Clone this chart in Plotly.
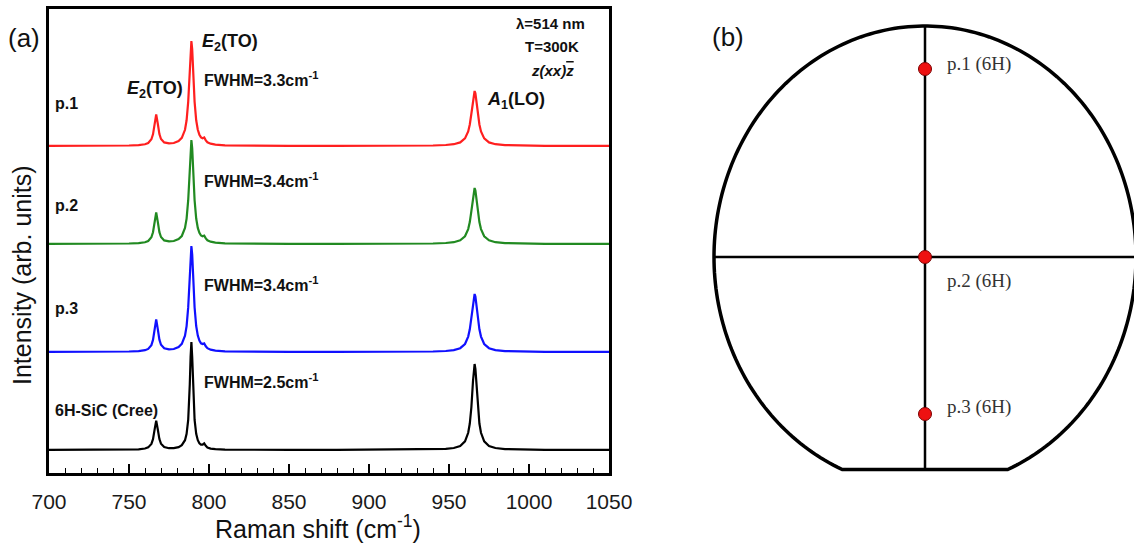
import numpy as np
import plotly.graph_objects as go

W, H = 1134, 547

# ---------------- data: Raman spectra (panel a) ----------------
raman_shift = [700, 720, 740, 750, 756, 760, 762, 764, 765, 766, 767, 768, 769, 770, 772,
               775, 778, 781, 783, 785, 786, 787, 787.5, 788, 788.5, 789, 789.5, 790, 790.5,
               791, 792, 793, 794, 795, 796, 797, 798, 799, 801, 804, 810, 820, 850, 880,
               910, 930, 940, 948, 953, 957, 960, 962, 963, 964, 965, 965.5, 966, 966.5,
               967, 968, 969, 970, 972, 975, 979, 985, 995, 1010, 1030, 1050]

p1_intensity = [0.1, 0.1, 0.3, 0.5, 0.9, 1.7, 3.0, 6.7, 11.7, 22.1, 31.6, 22.2, 11.9, 7.0, 3.6,
                2.6, 3.0, 4.9, 8.1, 16.2, 25.7, 44.2, 59, 78, 96.6, 105, 96.6, 78, 59,
                44.1, 25.7, 16.2, 11.3, 8.6, 7.8, 8.5, 5.6, 3.7, 2.3, 1.4, 0.7, 0.4, 0.2, 0.2,
                0.2, 0.3, 0.5, 1.0, 1.8, 3.6, 7.6, 14.6, 21.5, 32.5, 46.8, 52.7, 55, 52.7,
                46.8, 32.5, 21.5, 14.6, 7.6, 3.6, 1.8, 0.9, 0.4, 0.2, 0.1, 0.1]

p2_intensity = [0.1, 0.1, 0.3, 0.5, 0.9, 1.7, 3.0, 6.7, 11.7, 22.0, 31.5, 22.1, 11.8, 7.0, 3.6,
                2.6, 3.0, 4.9, 8.0, 16.0, 25.4, 43.8, 58.5, 77.3, 95.7, 104, 95.7, 77.3, 58.5,
                43.7, 25.5, 16.1, 11.2, 8.5, 7.7, 8.4, 5.6, 3.7, 2.3, 1.4, 0.7, 0.4, 0.2, 0.2,
                0.2, 0.3, 0.5, 1.0, 1.8, 3.7, 7.7, 14.9, 21.9, 33.1, 47.6, 53.6, 56, 53.6,
                47.6, 33.1, 21.9, 14.9, 7.7, 3.7, 1.8, 0.9, 0.4, 0.2, 0.1, 0.1]

p3_intensity = [0.1, 0.1, 0.3, 0.5, 0.9, 1.8, 3.1, 6.9, 12.1, 22.8, 32.6, 22.9, 12.3, 7.2, 3.7,
                2.6, 3.0, 5.0, 8.2, 16.4, 25.9, 44.6, 59.6, 78.8, 97.5, 106, 97.5, 78.8, 59.6,
                44.5, 26.0, 16.4, 11.4, 8.7, 7.9, 8.6, 5.7, 3.8, 2.3, 1.4, 0.7, 0.4, 0.2, 0.2,
                0.2, 0.3, 0.5, 1.0, 1.9, 3.8, 8.0, 15.4, 22.7, 34.3, 49.4, 55.6, 58, 55.6,
                49.4, 34.3, 22.7, 15.4, 8.0, 3.8, 1.9, 0.9, 0.4, 0.2, 0.1, 0.1]

cree_intensity = [0.1, 0.1, 0.2, 0.3, 0.7, 1.5, 2.6, 6.1, 10.8, 20.4, 29.4, 20.5, 10.9, 6.3, 3.0,
                  1.8, 1.9, 2.9, 4.8, 9.8, 16.2, 30, 44, 66, 93, 108, 93, 66, 44,
                  30, 16.2, 9.8, 6.8, 5.3, 5.3, 6.6, 4.1, 2.5, 1.4, 0.8, 0.4, 0.2, 0.1, 0.1,
                  0.2, 0.3, 0.5, 1.05, 2.0, 4.0, 8.6, 17.2, 26.5, 43, 69, 81, 86, 81,
                  69, 43, 26.5, 17.2, 8.6, 4.0, 2.0, 0.95, 0.4, 0.2, 0.1, 0.1]

series_names = ["p.1", "p.2", "p.3", "6H-SiC (Cree)"]
series_values = [p1_intensity, p2_intensity, p3_intensity, cree_intensity]
series_offsets = [327, 229, 121, 23]
series_fwhm = ["3.3", "3.4", "3.4", "2.5"]
series_colors = ["#ff1f1f", "#218a21", "#1010ff", "#000000"]

x_ticks = [700, 750, 800, 850, 900, 950, 1000, 1050]

# ---------------- data: wafer map (panel b) ----------------
wafer_labels = ["p.1 (6H)", "p.2 (6H)", "p.3 (6H)"]
wafer_x = [0, 0, 0]
wafer_y = [188, 0, -157]

FONT = "Liberation Sans, Arial, sans-serif"
SERIF = "Liberation Serif, Times New Roman, serif"


def px(x, y):
    return x / W, 1 - y / H


fig = go.Figure()

for name, vals, off, col in zip(series_names, series_values, series_offsets, series_colors):
    fig.add_trace(go.Scatter(
        x=raman_shift, y=[v + off for v in vals], mode="lines", name=name,
        line=dict(color=col, width=2.2), xaxis="x", yaxis="y", showlegend=False,
        hoverinfo="skip"))

# wafer points
fig.add_trace(go.Scatter(
    x=wafer_x, y=wafer_y, mode="markers", xaxis="x2", yaxis="y2", showlegend=False,
    marker=dict(size=13, color="#ee1111", line=dict(color="#7a0000", width=1)),
    hoverinfo="skip"))

# wafer outline: ellipse with a flat at the bottom
rx, ry, yflat = 211, 231, -212.5
th0 = np.arcsin(yflat / ry)
th = np.linspace(th0, np.pi - th0, 240)
ex, ey = rx * np.cos(th), ry * np.sin(th)
path = "M " + " L ".join(f"{a:.2f},{b:.2f}" for a, b in zip(ex, ey)) + " Z"

shapes = [
    dict(type="path", path=path, xref="x2", yref="y2",
         line=dict(color="black", width=3.5), layer="below"),
    dict(type="line", xref="x2", yref="y2", x0=-rx, x1=rx, y0=0, y1=0,
         line=dict(color="black", width=2.5), layer="below"),
    dict(type="line", xref="x2", yref="y2", x0=0, x1=0, y0=ry, y1=yflat,
         line=dict(color="black", width=2.5), layer="below"),
]

ann = []


def add_text(text, x, y, size, xanchor="left", family=FONT, color="#111111"):
    xx, yy = px(x, y)
    ann.append(dict(text=text, x=xx, y=yy, xref="paper", yref="paper", showarrow=False,
                    xanchor=xanchor, yanchor="middle",
                    font=dict(size=size, family=family, color=color)))


add_text("(a)", 24, 38, 26, xanchor="center")
add_text("(b)", 728, 37, 26, xanchor="center")

add_text("<b><i>E</i><sub>2</sub>(TO)</b>", 200, 42, 18)
add_text("<b><i>E</i><sub>2</sub>(TO)</b>", 125, 90, 18)
add_text("<b><i>A</i><sub>1</sub>(LO)</b>", 485, 100, 18)

fwhm_y = [79, 180, 284, 381]
label_y = [103, 205, 308, 410]
for name, fw, fy, ly in zip(series_names, series_fwhm, fwhm_y, label_y):
    add_text(f"<b>FWHM={fw}cm<sup>-1</sup></b>", 202, fy, 16)
    add_text(f"<b>{name}</b>", 53, ly, 16)

add_text("<b>λ=514 nm</b>", 550, 24, 15, xanchor="center")
add_text("<b>T=300K</b>", 552, 47, 15, xanchor="center")
add_text("<b><i>z(xx)<span style='text-decoration:overline'>z</span></i></b>", 552, 70, 15,
         xanchor="center")

# axis titles
add_text("Raman shift (cm<sup>-1</sup>)", 318, 527, 25, xanchor="center")
ann.append(dict(text="Intensity (arb. units)", x=22 / W, y=1 - 275 / H, xref="paper", yref="paper",
                showarrow=False, textangle=-90, xanchor="center", yanchor="middle",
                font=dict(size=25, family=FONT, color="#111111")))

# wafer labels
label_px_y = [64, 281, 407]
for lab, ly in zip(wafer_labels, label_px_y):
    add_text(lab, 945, ly, 19, family=SERIF, color="#333333")

fig.update_layout(
    template="none",
    width=W, height=H, margin=dict(l=0, r=0, t=0, b=0, pad=0),
    paper_bgcolor="white", plot_bgcolor="white",
    shapes=shapes, annotations=ann,
    xaxis=dict(domain=[49 / W, 609 / W], range=[700, 1050], tickvals=x_ticks,
               ticks="inside", ticklen=9, tickwidth=1.6, tickcolor="black",
               minor=dict(ticks="inside", dtick=10, ticklen=5, tickwidth=1.4, tickcolor="black"),
               showline=True, linewidth=2.5, linecolor="black", mirror=True,
               showgrid=False, zeroline=False, ticklabelstandoff=8, automargin=False,
               tickfont=dict(size=21, family=FONT, color="#1a1a1a")),
    yaxis=dict(domain=[(H - 473) / H, (H - 9) / H], range=[0, 464], automargin=False,
               showticklabels=False, ticks="", showline=True, linewidth=2.5,
               linecolor="black", mirror=True, showgrid=False, zeroline=False),
    xaxis2=dict(domain=[700 / W, 1], range=[-225, 209], visible=False, anchor="y2",
                automargin=False),
    yaxis2=dict(domain=[0, 1], range=[-290, 257], visible=False, anchor="x2",
                automargin=False),
)

fig.write_html("out.html", config={"displayModeBar": False},
               post_script="document.body.style.margin='0';document.body.style.overflow='hidden';")
